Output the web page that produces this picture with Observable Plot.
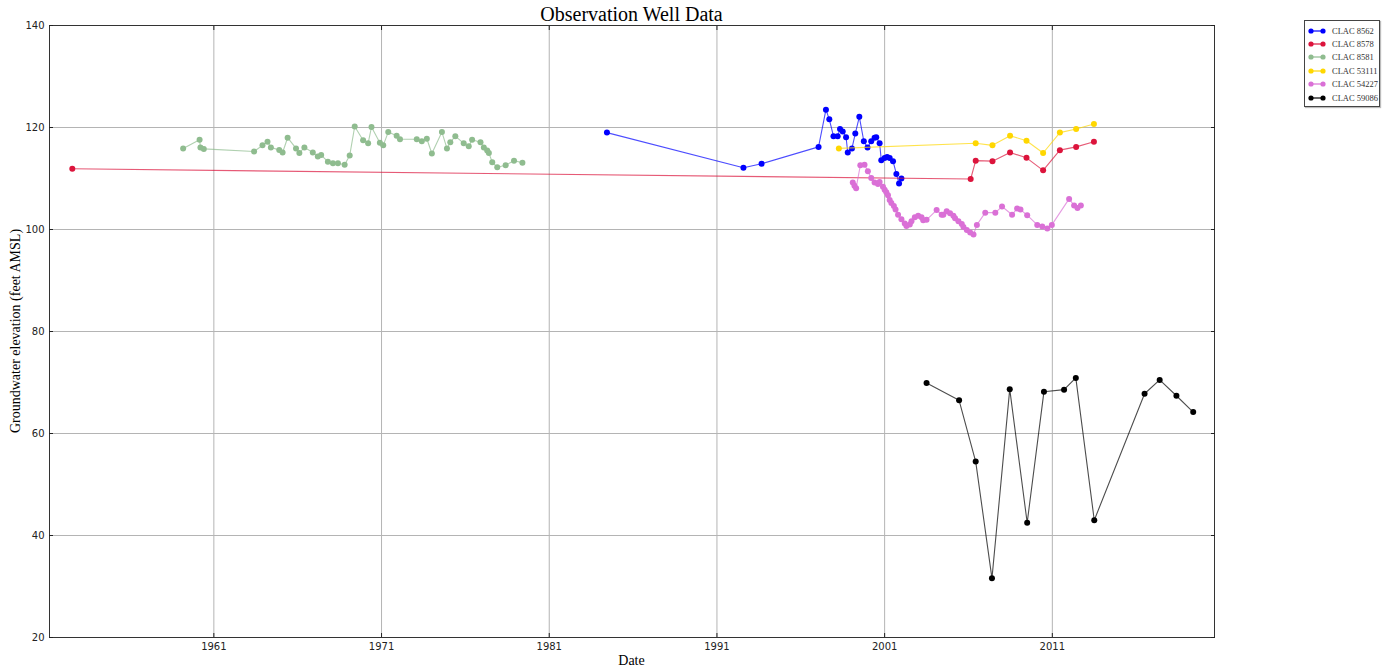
<!DOCTYPE html>
<html><head><meta charset="utf-8">
<script src="https://cdn.jsdelivr.net/npm/d3@7"></script>
<script src="https://cdn.jsdelivr.net/npm/@observablehq/plot@0.6"></script>
<style>
body{margin:0;background:#fff;}
#wrap{position:relative;width:1389px;height:672px;overflow:hidden;}
#title{position:absolute;left:49px;width:1165px;top:3px;text-align:center;font:20px "Liberation Serif","Times New Roman",serif;color:#000;}
#xlabel{position:absolute;left:49px;width:1165px;top:653px;text-align:center;font:14px "Liberation Serif",serif;color:#000;}
#ylabel{position:absolute;left:16px;top:331px;transform:translate(-50%,-50%) rotate(-90deg);white-space:nowrap;font:14px "Liberation Serif",serif;color:#000;}
#legend{position:absolute;left:1304px;top:20px;width:74px;padding:3px 0 2px 0;border:1px solid #444;background:#fff;box-shadow:1px 1px 1px #bbb;}
#legend .row{height:13.4px;display:flex;align-items:center;font:8.5px "Liberation Serif",serif;color:#333;}
#legend svg{margin:0 6px 0 3px;}
</style></head>
<body><div id="wrap">
<div id="chart"></div>
<div id="title">Observation Well Data</div>
<div id="xlabel">Date</div>
<div id="ylabel">Groundwater elevation (feet AMSL)</div>
<div id="legend"></div>
</div>
<script>
const wellNames = ["CLAC 8562","CLAC 8578","CLAC 8581","CLAC 53111","CLAC 54227","CLAC 59086"];
const wellColors = ["#0000ff","#dc143c","#8fbc8f","#ffd700","#da70d6","#000000"];
const xTicks = [1961,1971,1981,1991,2001,2011];
const yTicks = [20,40,60,80,100,120,140];

// CLAC 8562
const years8562 = [1984.44,1992.58,1993.66,1997.06,1997.5,1997.7,1997.95,1998.2,1998.34,1998.5,1998.7,1998.8,1999.05,1999.25,1999.49,1999.76,1999.98,2000.2,2000.4,2000.5,2000.7,2000.8,2001.0,2001.15,2001.3,2001.5,2001.7,2001.86,2002.0];
const levels8562 = [119.0,112.1,112.9,116.2,123.5,121.6,118.3,118.3,119.7,119.2,118.1,115.1,115.9,118.8,122.1,117.3,116.1,117.3,118.0,118.1,116.9,113.6,114.0,114.2,114.0,113.4,110.9,109.0,110.0];
// CLAC 8578
const years8578 = [1952.56,2006.13,2006.43,2007.43,2008.48,2009.46,2010.45,2011.45,2012.42,2013.48];
const levels8578 = [111.9,109.9,113.5,113.4,115.1,114.05,111.6,115.56,116.2,117.2];
// CLAC 8581
const years8581 = [1959.17,1960.15,1960.2,1960.4,1963.4,1963.9,1964.2,1964.4,1964.9,1965.1,1965.4,1965.9,1966.1,1966.4,1966.9,1967.2,1967.4,1967.8,1968.1,1968.4,1968.8,1969.1,1969.4,1969.9,1970.2,1970.4,1970.9,1971.1,1971.4,1971.9,1972.1,1973.1,1973.4,1973.7,1974.0,1974.6,1974.9,1975.1,1975.4,1975.9,1976.2,1976.4,1976.9,1977.1,1977.3,1977.4,1977.6,1977.9,1978.4,1978.9,1979.4];
const levels8581 = [115.9,117.6,116.1,115.8,115.3,116.5,117.2,116.1,115.6,115.1,118.0,115.9,115.0,116.1,115.1,114.3,114.6,113.3,113.0,113.0,112.7,114.5,120.2,117.5,116.9,120.1,117.0,116.5,119.1,118.4,117.7,117.7,117.3,117.8,114.9,119.1,115.9,117.1,118.3,116.9,116.3,117.6,117.1,116.1,115.5,115.0,113.2,112.2,112.6,113.5,113.1];
// CLAC 53111
const years53111 = [1998.27,2006.43,2007.43,2008.48,2009.46,2010.45,2011.45,2012.42,2013.48];
const levels53111 = [115.9,116.9,116.5,118.4,117.4,115.0,119.0,119.7,120.7];
// CLAC 54227
const years54227 = [1999.1,1999.2,1999.3,1999.55,1999.8,2000.0,2000.2,2000.4,2000.6,2000.7,2000.9,2001.0,2001.1,2001.2,2001.3,2001.4,2001.55,2001.65,2001.8,2002.0,2002.2,2002.3,2002.5,2002.6,2002.8,2003.0,2003.2,2003.3,2003.5,2004.1,2004.4,2004.5,2004.7,2004.9,2005.1,2005.2,2005.4,2005.6,2005.7,2005.9,2006.1,2006.3,2006.5,2007.0,2007.6,2008.0,2008.6,2008.9,2009.1,2009.5,2010.1,2010.4,2010.7,2010.97,2012.0,2012.3,2012.5,2012.7];
const levels54227 = [109.2,108.6,108.1,112.6,112.7,111.4,110.1,109.2,108.9,109.3,108.4,107.8,107.3,106.7,105.8,105.2,104.6,103.9,102.9,102.0,101.2,100.7,101.0,101.6,102.4,102.7,102.4,101.8,101.9,103.8,102.9,102.9,103.6,103.2,102.7,102.2,101.6,101.1,100.5,99.9,99.4,99.0,100.9,103.3,103.3,104.5,102.9,104.1,103.9,102.8,100.9,100.6,100.2,100.9,106.0,104.7,104.2,104.7];
// CLAC 59086
const years59086 = [2003.5,2005.44,2006.43,2007.4,2008.46,2009.5,2010.5,2011.7,2012.4,2013.5,2016.5,2017.4,2018.4,2019.4];
const levels59086 = [69.9,66.5,54.5,31.6,68.7,42.5,68.2,68.6,70.9,43.0,67.8,70.5,67.4,64.2];

const seriesYears = [years8562,years8578,years8581,years53111,years54227,years59086];
const seriesLevels = [levels8562,levels8578,levels8581,levels53111,levels54227,levels59086];
const rows = wellNames.map((name,i) => seriesYears[i].map((yr,j) => ({well:name, year:yr, level:seriesLevels[i][j]})));

const seriesMarks = rows.flatMap(data => [
  Plot.line(data,{x:"year",y:"level",stroke:"well",strokeWidth:1.1,strokeOpacity:0.7}),
  Plot.dot(data,{x:"year",y:"level",fill:"well",r:3})
]);

const chart = Plot.plot({
  width:1389, height:672,
  marginLeft:49, marginRight:175, marginTop:25, marginBottom:35,
  x:{domain:[1951.2,2020.67]},
  y:{domain:[20,140]},
  color:{domain:wellNames, range:wellColors},
  style:{fontFamily:"DejaVu Sans", fontSize:"10px", color:"#222", background:"#fff", overflow:"visible"},
  marks:[
    Plot.gridX(xTicks,{stroke:"#b4b4b4", strokeOpacity:1}),
    Plot.gridY(yTicks,{stroke:"#b4b4b4", strokeOpacity:1}),
    ...seriesMarks,
    Plot.frame({stroke:"#333"}),
    Plot.axisX(xTicks,{tickSize:-4, tickPadding:9, label:null, tickFormat:d=>String(d)}),
    Plot.axisX(xTicks,{anchor:"top", tickSize:-4, label:null, tickFormat:()=>""}),
    Plot.axisY(yTicks,{tickSize:-4, tickPadding:9, label:null}),
    Plot.axisY(yTicks,{anchor:"right", tickSize:-4, label:null, tickFormat:()=>""})
  ]
});
document.getElementById("chart").appendChild(chart);

const legend = document.getElementById("legend");
wellNames.forEach((name,i) => {
  const row = document.createElement("div");
  row.className = "row";
  row.innerHTML = `<svg width="18" height="8"><line x1="3" y1="4" x2="15" y2="4" stroke="${wellColors[i]}" stroke-width="1.2"/><circle cx="3" cy="4" r="2.6" fill="${wellColors[i]}"/><circle cx="15" cy="4" r="2.6" fill="${wellColors[i]}"/></svg><span>${name}</span>`;
  legend.appendChild(row);
});
</script>
</body></html>
